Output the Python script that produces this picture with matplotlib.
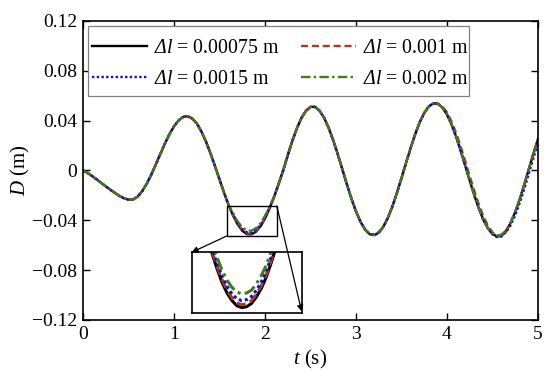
import matplotlib
matplotlib.use("Agg")
import matplotlib.pyplot as plt
from matplotlib.patches import Rectangle, ConnectionPatch

# ---------------- data ----------------
t = [round(0.05 * i, 2) for i in range(101)]

D_00075 = [0.0000, -0.0020, -0.0045, -0.0072, -0.0100, -0.0128, -0.0155, -0.0180, -0.0205, -0.0223,
           -0.0235, -0.0233, -0.0210, -0.0167, -0.0107, -0.0034, 0.0048, 0.0133, 0.0216, 0.0291,
           0.0354, 0.0401, 0.0429, 0.0435, 0.0417, 0.0377, 0.0314, 0.0234, 0.0139, 0.0035,
           -0.0072, -0.0179, -0.0278, -0.0364, -0.0434, -0.0484, -0.0511, -0.0513, -0.0492, -0.0450,
           -0.0387, -0.0306, -0.0212, -0.0108, 0.0000, 0.0121, 0.0236, 0.0337, 0.0420, 0.0478,
           0.0510, 0.0510, 0.0479, 0.0422, 0.0341, 0.0242, 0.0129, 0.0010, -0.0111, -0.0226,
           -0.0328, -0.0412, -0.0474, -0.0511, -0.0519, -0.0500, -0.0453, -0.0382, -0.0290, -0.0181,
           -0.0063, 0.0059, 0.0178, 0.0289, 0.0385, 0.0461, 0.0513, 0.0538, 0.0535, 0.0505,
           0.0449, 0.0370, 0.0273, 0.0161, 0.0041, -0.0080, -0.0197, -0.0303, -0.0395, -0.0464,
           -0.0510, -0.0530, -0.0521, -0.0484, -0.0421, -0.0335, -0.0231, -0.0114, 0.0010, 0.0134,
           0.0251]

D_001 = [0.0000, -0.0020, -0.0045, -0.0072, -0.0100, -0.0128, -0.0155, -0.0180, -0.0205, -0.0223,
         -0.0235, -0.0233, -0.0210, -0.0167, -0.0107, -0.0034, 0.0048, 0.0133, 0.0216, 0.0291,
         0.0354, 0.0401, 0.0429, 0.0435, 0.0417, 0.0377, 0.0314, 0.0234, 0.0139, 0.0035,
         -0.0072, -0.0179, -0.0278, -0.0360, -0.0429, -0.0478, -0.0505, -0.0507, -0.0486, -0.0445,
         -0.0382, -0.0302, -0.0212, -0.0108, 0.0000, 0.0121, 0.0236, 0.0337, 0.0420, 0.0478,
         0.0510, 0.0510, 0.0479, 0.0422, 0.0341, 0.0242, 0.0129, 0.0010, -0.0111, -0.0226,
         -0.0328, -0.0412, -0.0474, -0.0511, -0.0519, -0.0500, -0.0453, -0.0382, -0.0290, -0.0181,
         -0.0063, 0.0059, 0.0178, 0.0289, 0.0385, 0.0461, 0.0513, 0.0538, 0.0537, 0.0514,
         0.0466, 0.0394, 0.0302, 0.0195, 0.0077, -0.0044, -0.0162, -0.0271, -0.0367, -0.0443,
         -0.0496, -0.0532, -0.0527, -0.0495, -0.0421, -0.0335, -0.0231, -0.0114, 0.0010, 0.0134,
         0.0251]

D_0015 = [0.0000, -0.0020, -0.0045, -0.0072, -0.0100, -0.0128, -0.0155, -0.0180, -0.0205, -0.0223,
          -0.0235, -0.0233, -0.0210, -0.0167, -0.0107, -0.0034, 0.0048, 0.0133, 0.0216, 0.0291,
          0.0354, 0.0401, 0.0429, 0.0435, 0.0417, 0.0377, 0.0314, 0.0234, 0.0139, 0.0035,
          -0.0072, -0.0179, -0.0278, -0.0353, -0.0421, -0.0470, -0.0496, -0.0498, -0.0478, -0.0437,
          -0.0376, -0.0297, -0.0212, -0.0108, 0.0000, 0.0121, 0.0236, 0.0337, 0.0420, 0.0478,
          0.0510, 0.0510, 0.0479, 0.0422, 0.0341, 0.0242, 0.0129, 0.0010, -0.0111, -0.0226,
          -0.0328, -0.0412, -0.0474, -0.0511, -0.0519, -0.0500, -0.0453, -0.0382, -0.0290, -0.0181,
          -0.0063, 0.0059, 0.0178, 0.0289, 0.0385, 0.0461, 0.0513, 0.0538, 0.0535, 0.0505,
          0.0449, 0.0370, 0.0273, 0.0161, 0.0041, -0.0080, -0.0197, -0.0303, -0.0395, -0.0464,
          -0.0512, -0.0535, -0.0530, -0.0495, -0.0440, -0.0361, -0.0262, -0.0149, -0.0027, 0.0097,
          0.0216]

D_002 = [0.0000, -0.0020, -0.0045, -0.0072, -0.0100, -0.0128, -0.0155, -0.0180, -0.0205, -0.0223,
         -0.0235, -0.0233, -0.0210, -0.0167, -0.0107, -0.0034, 0.0048, 0.0133, 0.0216, 0.0291,
         0.0354, 0.0401, 0.0429, 0.0435, 0.0417, 0.0377, 0.0314, 0.0234, 0.0139, 0.0035,
         -0.0072, -0.0179, -0.0278, -0.0344, -0.0410, -0.0457, -0.0482, -0.0484, -0.0464, -0.0425,
         -0.0365, -0.0289, -0.0212, -0.0108, 0.0000, 0.0121, 0.0236, 0.0337, 0.0420, 0.0478,
         0.0510, 0.0510, 0.0479, 0.0422, 0.0341, 0.0242, 0.0129, 0.0010, -0.0111, -0.0226,
         -0.0328, -0.0412, -0.0474, -0.0505, -0.0512, -0.0494, -0.0453, -0.0382, -0.0290, -0.0181,
         -0.0063, 0.0059, 0.0178, 0.0289, 0.0385, 0.0461, 0.0513, 0.0538, 0.0535, 0.0505,
         0.0449, 0.0370, 0.0273, 0.0161, 0.0041, -0.0080, -0.0197, -0.0303, -0.0395, -0.0464,
         -0.0505, -0.0522, -0.0515, -0.0484, -0.0421, -0.0335, -0.0231, -0.0114, 0.0010, 0.0130,
         0.0240]

# zoomed (inset) samples around the second trough
t_zoom = [round(1.575 + 0.025 * i, 3) for i in range(23)]
Z_00075 = [-0.0229, -0.0278, -0.0323, -0.0364, -0.0402, -0.0434, -0.0462, -0.0484, -0.0500, -0.0511,
           -0.0515, -0.0513, -0.0506, -0.0492, -0.0474, -0.0450, -0.0420, -0.0387, -0.0348, -0.0306,
           -0.0261, -0.0212, -0.0161]
Z_001 = [-0.0226, -0.0275, -0.0319, -0.0360, -0.0397, -0.0429, -0.0456, -0.0478, -0.0494, -0.0505,
         -0.0509, -0.0507, -0.0500, -0.0486, -0.0468, -0.0445, -0.0415, -0.0382, -0.0344, -0.0302,
         -0.0258, -0.0209, -0.0159]
Z_0015 = [-0.0222, -0.0270, -0.0314, -0.0353, -0.0390, -0.0421, -0.0449, -0.0470, -0.0486, -0.0496,
          -0.0500, -0.0498, -0.0491, -0.0478, -0.0460, -0.0437, -0.0408, -0.0376, -0.0338, -0.0297,
          -0.0253, -0.0206, -0.0156]
Z_002 = [-0.0216, -0.0262, -0.0305, -0.0344, -0.0379, -0.0410, -0.0436, -0.0457, -0.0472, -0.0482,
         -0.0486, -0.0484, -0.0478, -0.0464, -0.0447, -0.0425, -0.0396, -0.0365, -0.0329, -0.0289,
         -0.0246, -0.0200, -0.0152]

labels = [r'$\mathcal{Δ}\mathit{l}$ = 0.00075 m', r'$\mathcal{Δ}\mathit{l}$ = 0.001 m',
          r'$\mathcal{Δ}\mathit{l}$ = 0.0015 m', r'$\mathcal{Δ}\mathit{l}$ = 0.002 m']
xticks = [0, 1, 2, 3, 4, 5]
xticklabels = ['0', '1', '2', '3', '4', '5']
yticks = [-0.12, -0.08, -0.04, 0, 0.04, 0.08, 0.12]
yticklabels = ['\u22120.12', '\u22120.08', '\u22120.04', '0', '0.04', '0.08', '0.12']

# ---------------- style ----------------
plt.rcParams['font.family'] = ['Liberation Serif', 'DejaVu Serif']
plt.rcParams['mathtext.fontset'] = 'custom'
plt.rcParams['mathtext.rm'] = 'Liberation Serif'
plt.rcParams['mathtext.it'] = 'Liberation Serif:italic'
plt.rcParams['mathtext.cal'] = 'Liberation Serif:italic'
plt.rcParams['font.size'] = 14

series = [D_00075, D_001, D_0015, D_002]
zseries = [Z_00075, Z_001, Z_0015, Z_002]
colors = ['black', '#a83c1c', '#1010d0', '#3f7a1c']
styles = ['-', (0, (3, 1.6)), (0, (1, 1.0)), (0, (4, 1.4, 1, 1.4))]
lw = 1.7

fig = plt.figure(figsize=(5.5, 3.8), dpi=100)
ax = fig.add_axes([0.151, 0.158, 0.827, 0.787])

lines = []
for d, c, s, lab in zip(series, colors, styles, labels):
    ln, = ax.plot(t, d, color=c, linestyle=s, linewidth=lw, label=lab)
    lines.append(ln)

ax.set_xlim(0, 5)
ax.set_ylim(-0.12, 0.12)
ax.set_xticks(xticks)
ax.set_xticklabels(xticklabels)
ax.set_yticks(yticks)
ax.set_yticklabels(yticklabels)
ax.tick_params(direction='in', top=True, right=True, length=5, width=1.0, labelsize=14, pad=4)
for sp in ax.spines.values():
    sp.set_linewidth(1.2)
ax.set_xlabel(r'$t$ (s)', fontsize=15, labelpad=4)
ax.set_ylabel(r'$D$ (m)', fontsize=15, labelpad=0)

# legend frame (drawn separately to get the reference's padding)
ax.add_patch(Rectangle((0.011, 0.749), 0.837, 0.234, transform=ax.transAxes, facecolor='white',
                       edgecolor='#808080', linewidth=0.9, zorder=4))
order = [0, 2, 1, 3]
leg = ax.legend([lines[i] for i in order], [labels[i] for i in order],
                ncol=2, loc='upper left', bbox_to_anchor=(0.0198, 0.938), fontsize=14.3,
                frameon=False, borderaxespad=0, borderpad=0, handlelength=2.75,
                handletextpad=0.35, columnspacing=1.1, labelspacing=0.6)
leg.set_zorder(5)

# zoom box on main axes
bx0, bx1, by0, by1 = 1.58, 2.13, -0.0526, -0.0285
ax.add_patch(Rectangle((bx0, by0), bx1 - bx0, by1 - by0, fill=False, edgecolor='black', linewidth=1.0, zorder=5))

# inset
axin = fig.add_axes([0.3485, 0.1755, 0.2, 0.1605])
for d, c, s in zip(zseries, colors, styles):
    axin.plot(t_zoom, d, color=c, linestyle=s, linewidth=2.2)
axin.set_xlim(1.57, 2.13)
axin.set_ylim(-0.0527, -0.0398)
axin.set_xticks([])
axin.set_yticks([])
for sp in axin.spines.values():
    sp.set_linewidth(1.2)

con1 = ConnectionPatch(xyA=(bx0, by0), coordsA=ax.transData, xyB=(0, 1), coordsB=axin.transAxes,
                       arrowstyle='-|>', mutation_scale=9, color='black', linewidth=0.9)
con2 = ConnectionPatch(xyA=(bx1, by1), coordsA=ax.transData, xyB=(1, 0.03), coordsB=axin.transAxes,
                       arrowstyle='-|>', mutation_scale=9, color='black', linewidth=0.9)
fig.add_artist(con1)
fig.add_artist(con2)

fig.savefig('out.png', dpi=100)
